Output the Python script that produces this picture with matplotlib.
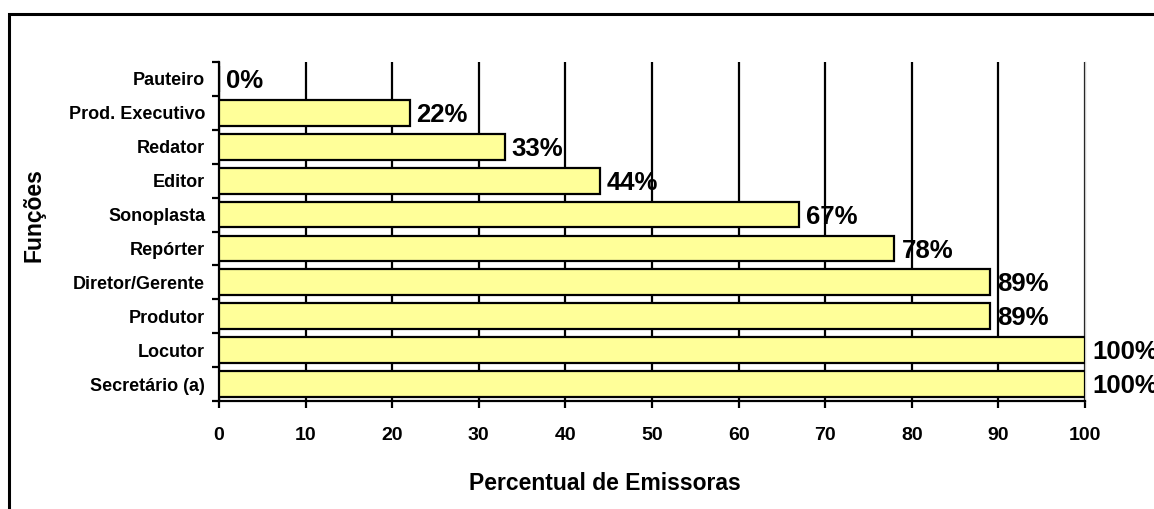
import matplotlib
matplotlib.use("Agg")
import matplotlib.pyplot as plt
from matplotlib.patches import Rectangle

categories = ["Secretário (a)", "Locutor", "Produtor", "Diretor/Gerente", "Repórter",
              "Sonoplasta", "Editor", "Redator", "Prod. Executivo", "Pauteiro"]
values = [100, 100, 89, 89, 78, 67, 44, 33, 22, 0]
xticks = [0, 10, 20, 30, 40, 50, 60, 70, 80, 90, 100]

plt.rcParams['font.family'] = ['Liberation Sans', 'DejaVu Sans']
plt.rcParams['font.weight'] = 'bold'

W, H = 1154, 509
fig = plt.figure(figsize=(W / 100, H / 100), dpi=100)
ax = fig.add_axes([219 / W, 1 - 401 / H, (1085 - 219) / W, (401 - 62) / H])

# outer frame
fig.patches.append(Rectangle((8.5 / W, -0.2), 1.5, (H - 13.5) / H + 0.2,
                             transform=fig.transFigure, fill=False,
                             edgecolor='black', linewidth=2.2, zorder=0))

y = list(range(len(categories)))
ax.set_axisbelow(True)
ax.xaxis.grid(True, color='black', linewidth=1.6)
ax.barh(y, values, height=0.76, color='#FFFF99', edgecolor='black', linewidth=1.6, zorder=3)

for yi, v in zip(y, values):
    ax.annotate(f"{v}%", (v, yi), xytext=(5, -1.5), textcoords='offset points',
                ha='left', va='center', fontsize=18.5, fontweight='bold', zorder=5, clip_on=False)

ax.set_xlim(0, 100)
ax.set_ylim(-0.5, len(categories) - 0.5)
ax.set_xticks(xticks)
ax.set_xticklabels([str(t) for t in xticks], fontsize=14, fontweight='bold')
ax.tick_params(axis='x', length=5, width=1.6, pad=13.5)

ax.set_yticks(y)
ax.set_yticklabels(categories, fontsize=13, fontweight='bold')
ax.tick_params(axis='y', length=0, pad=10)
ax.set_yticks([i - 0.5 for i in range(len(categories) + 1)], minor=True)
ax.tick_params(axis='y', which='minor', length=5, width=1.6)

for s in ['left', 'bottom']:
    ax.spines[s].set_linewidth(1.6)
ax.spines['top'].set_visible(False)
ax.spines['right'].set_color('#c8c8c8')
ax.spines['right'].set_linewidth(1.0)

ax.set_xlabel("Percentual de Emissoras", fontsize=16.5, fontweight='bold')
ax.xaxis.set_label_coords(0.446, -0.21)
ax.set_ylabel("Funções", fontsize=16.5, fontweight='bold')
ax.yaxis.set_label_coords(-0.2005, 0.548)

fig.savefig("out.png", dpi=100)
